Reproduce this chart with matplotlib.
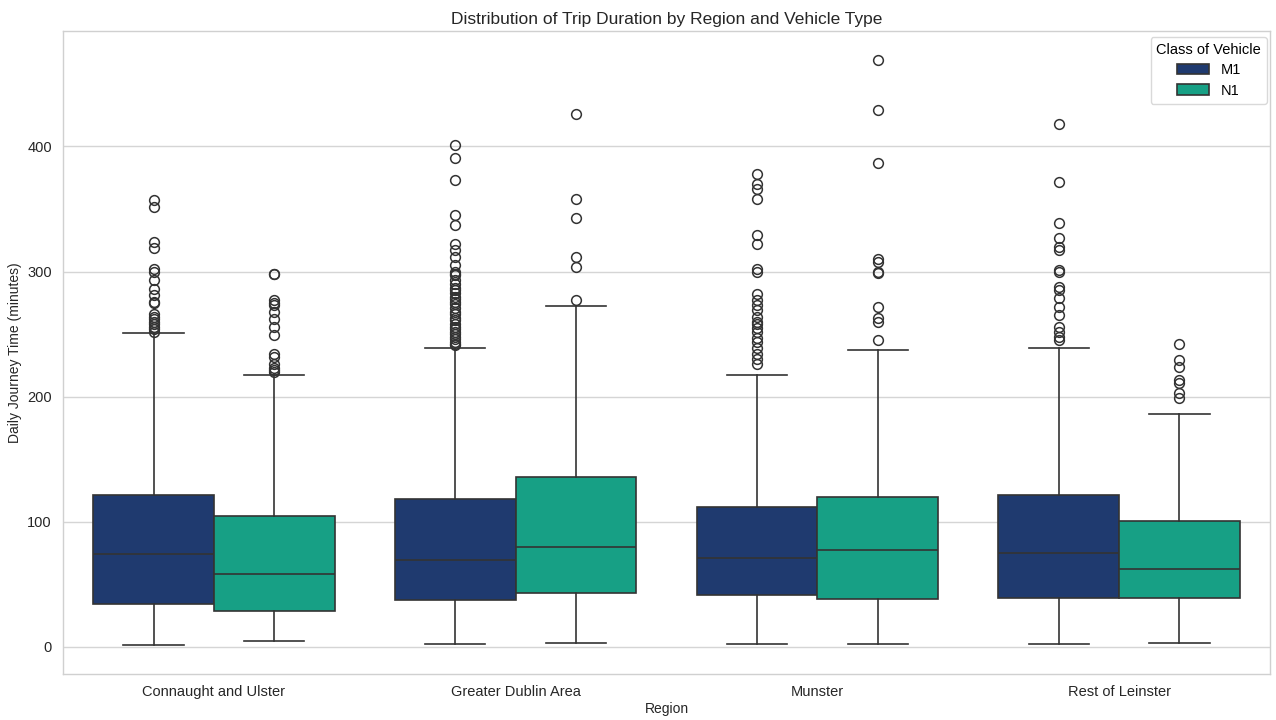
import matplotlib
matplotlib.use("Agg")
import matplotlib.pyplot as plt
from matplotlib.patches import Patch

regions = ["Connaught and Ulster", "Greater Dublin Area", "Munster", "Rest of Leinster"]
classes = ["M1", "N1"]
colors = {"M1": "#1f3a6f", "N1": "#17a085"}

m1_q1 = [34.1, 37.2, 41.2, 39.3]
m1_med = [74.3, 69.5, 70.6, 74.7]
m1_q3 = [121.1, 118.5, 112.1, 121.7]
m1_whislo = [1.6, 2.3, 2.2, 2.3]
m1_whishi = [251.1, 238.6, 217.6, 238.6]
m1_fliers = [
    [357, 352, 324, 319, 302, 300, 293, 286, 281, 276, 275, 266, 264, 262, 260, 258, 256, 254, 252],
    [401, 391, 373, 345, 337, 322, 317, 312, 305, 300, 298, 297, 293, 290, 287, 285, 283, 280, 278,
     276, 274, 271, 268, 266, 263, 261, 258, 256, 254, 252, 250, 248, 246, 244, 242, 241],
    [378, 370, 366, 358, 329, 322, 302, 300, 282, 277, 273, 269, 264, 260, 258, 255, 252, 247, 244,
     239, 234, 230, 226],
    [418, 372, 339, 327, 320, 317, 301, 300, 288, 285, 279, 272, 265, 256, 252, 248, 245],
]

n1_q1 = [28.6, 42.9, 38.3, 38.6]
n1_med = [58.4, 79.8, 77.3, 62.5]
n1_q3 = [104.6, 135.9, 120.0, 100.5]
n1_whislo = [4.3, 2.9, 2.2, 3.2]
n1_whishi = [217.0, 272.1, 236.9, 185.8]
n1_fliers = [
    [298, 298, 277, 275, 273, 268, 262, 256, 249, 234, 232, 226, 223, 221, 220],
    [426, 358, 343, 312, 304, 277],
    [469, 429, 387, 310, 308, 300, 299, 272, 263, 260, 245],
    [242, 229, 224, 213, 211, 203, 199],
]

yticks = [0, 100, 200, 300, 400]

plt.rcParams['font.family'] = ['Liberation Sans', 'DejaVu Sans']

fig = plt.figure(figsize=(12.76, 7.2), dpi=100)
ax = fig.add_axes([0.0494, 0.0639, 0.9459, 0.8931])

series = {
    "M1": (m1_q1, m1_med, m1_q3, m1_whislo, m1_whishi, m1_fliers),
    "N1": (n1_q1, n1_med, n1_q3, n1_whislo, n1_whishi, n1_fliers),
}
offsets = {"M1": -0.2, "N1": 0.2}
line_c = "#333333"
lw = 1.2

for cls in classes:
    q1, med, q3, lo, hi, fl = series[cls]
    stats = []
    for i in range(len(regions)):
        stats.append(dict(q1=q1[i], med=med[i], q3=q3[i], whislo=lo[i], whishi=hi[i],
                          fliers=fl[i], label=regions[i]))
    pos = [i + offsets[cls] for i in range(len(regions))]
    ax.bxp(stats, positions=pos, widths=0.4, capwidths=0.2, patch_artist=True,
           showfliers=True, manage_ticks=False,
           boxprops=dict(facecolor=colors[cls], edgecolor=line_c, linewidth=lw),
           medianprops=dict(color=line_c, linewidth=lw),
           whiskerprops=dict(color=line_c, linewidth=lw),
           capprops=dict(color=line_c, linewidth=lw),
           flierprops=dict(marker='o', markerfacecolor='none', markeredgecolor=line_c,
                           markersize=7, markeredgewidth=1.1, linestyle='none'))

allmax = max(max(max(f) for f in m1_fliers), max(max(f) for f in n1_fliers))
allmin = min(min(m1_whislo), min(n1_whislo))
pad = (allmax - allmin) * 0.05
ax.set_ylim(allmin - pad, allmax + pad)
ax.set_xlim(-0.5, len(regions) - 0.5)
ax.set_xticks(range(len(regions)))
ax.set_xticklabels(regions, fontsize=10.5, color="#262626")
ax.set_yticks(yticks)
ax.set_yticklabels([str(v) for v in yticks], fontsize=10.5, color="#262626")
ax.tick_params(length=0, pad=8)

ax.set_axisbelow(True)
ax.yaxis.grid(True, color="#d5d5d5", linewidth=1.0)
ax.xaxis.grid(False)
for s in ax.spines.values():
    s.set_color("#d0d0d0")
    s.set_linewidth(1.0)

ax.set_title("Distribution of Trip Duration by Region and Vehicle Type", fontsize=12.5,
             color="#262626", pad=5)
ax.set_xlabel("Region", fontsize=10, color="#262626", labelpad=2)
ax.set_ylabel("Daily Journey Time (minutes)", fontsize=10, color="#262626", labelpad=4)

handles = [Patch(facecolor=colors[c], edgecolor=line_c, linewidth=lw, label=c) for c in classes]
leg = ax.legend(handles=handles, title="Class of Vehicle", loc="upper right",
                bbox_to_anchor=(0.9975, 0.991), fontsize=10.5,
                title_fontsize=10.5, frameon=True, borderaxespad=0.0, handlelength=2.2,
                labelspacing=0.45)
leg.get_frame().set_edgecolor("#d0d0d0")

fig.savefig("out.png", dpi=100)
